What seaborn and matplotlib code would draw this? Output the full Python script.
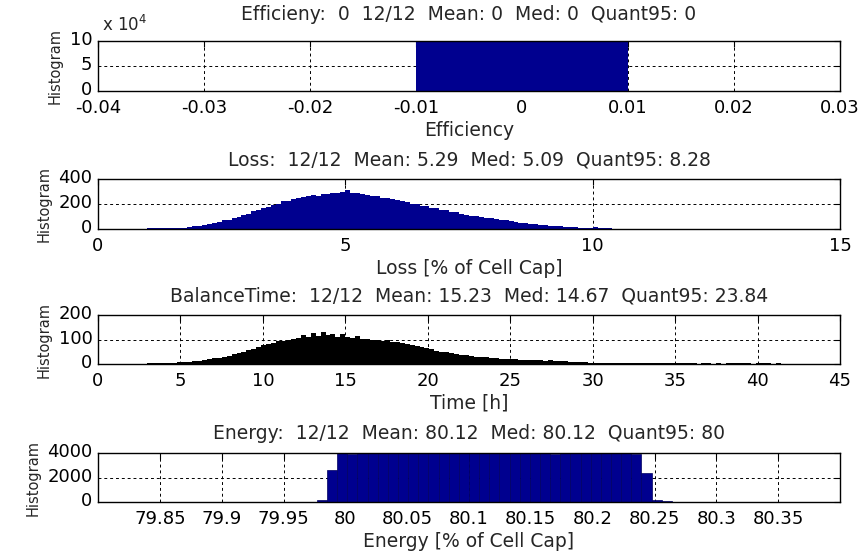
import matplotlib
matplotlib.use("Agg")
import matplotlib.pyplot as plt
import matplotlib.transforms as mtransforms
import numpy as np
import pandas as pd
import seaborn as sns

sns.set_style("white")
plt.rcParams['font.family'] = ['DejaVu Sans']

# Efficiency: all values at 0, one bin from -0.01 to 0.01 (count beyond the axis top)
eff_edges = [-0.01, 0.01]
eff_counts = [120000]

# Loss [% of Cell Cap], bins of 0.1 starting at 0.8
loss_start, loss_width = 0.8, 0.1
loss_counts = [
    2, 4,
    5, 6, 5, 7, 6, 8, 9, 12, 16, 22,
    26, 34, 41, 48, 57, 69, 76, 90, 98, 113,
    124, 141, 152, 170, 178, 196, 203, 221, 228, 244,
    246, 259, 262, 270, 268, 281, 279, 291, 286, 297,
    312, 291, 288, 281, 276, 268, 263, 252, 249, 238,
    233, 221, 216, 203, 197, 187, 181, 170, 166, 154,
    149, 138, 133, 122, 116, 108, 104, 96, 92, 85,
    80, 74, 70, 62, 58, 52, 48, 43, 40, 35,
    32, 28, 25, 21, 18, 15, 13, 11, 10, 9,
    14, 6, 5, 8, 4, 4, 3, 3, 3, 3,
    3, 3, 2, 3, 2, 3, 2, 2, 3, 2,
    2, 2, 2, 3, 2, 2, 2, 2, 2, 2,
    0, 2, 0, 3, 2, 0, 3, 0, 2, 0,
    2, 0, 0, 3, 0, 2,
]

# BalanceTime [h], bins of 0.3 starting at 2.7
time_start, time_width = 2.7, 0.3
time_counts = [
    2, 3, 4, 4, 5, 5, 6, 7, 8, 10,
    12, 14, 17, 19, 23, 26, 30, 34, 39, 44,
    50, 57, 63, 70, 76, 81, 86, 92, 95, 99,
    103, 108, 118, 112, 126, 115, 132, 117, 121, 112,
    124, 110, 106, 113, 102, 104, 98, 99, 95, 96,
    90, 88, 84, 82, 77, 72, 68, 64, 60, 55,
    51, 47, 45, 42, 38, 35, 32, 30, 29, 27,
    25, 24, 22, 21, 20, 19, 18, 17, 18, 16,
    15, 14, 15, 12, 11, 12, 10, 9, 8, 7,
    6, 6, 5, 5, 4, 5, 4, 4, 3, 4,
    3, 4, 3, 3, 4, 3, 3, 3, 4, 3,
    3, 3, 2, 4, 3, 2, 3, 2, 5, 3,
    5, 4, 6, 2, 5, 3, 4, 2, 3, 2,
    2,
]

# Energy [% of Cell Cap], bins of 0.0082 starting at 79.977
energy_start, energy_width = 79.977, 0.0082
energy_counts = [
    150, 2600,
    4150, 3900, 4150, 4150, 4150, 4150, 4150, 4150, 4150, 4150,
    4150, 4150, 4150, 4150, 4150, 4150, 4150, 4150, 4150, 4150,
    4150, 3900, 4150, 4150, 4150, 4150, 4150, 4150, 4150, 3900,
    2400, 200, 100,
]

titles = [
    "Efficieny:  0  12/12  Mean: 0  Med: 0  Quant95: 0",
    "Loss:  12/12  Mean: 5.29  Med: 5.09  Quant95: 8.28",
    "BalanceTime:  12/12  Mean: 15.23  Med: 14.67  Quant95: 23.84",
    "Energy:  12/12  Mean: 80.12  Med: 80.12  Quant95: 80",
]
xlabels = ["Efficiency", "Loss [% of Cell Cap]", "Time [h]", "Energy [% of Cell Cap]"]
xlims = [(-0.04, 0.03), (0, 15), (0, 45), (79.8, 80.4)]
xticks = [
    [-0.04, -0.03, -0.02, -0.01, 0, 0.01, 0.02, 0.03],
    [0, 5, 10, 15],
    [0, 5, 10, 15, 20, 25, 30, 35, 40, 45],
    [79.85, 79.9, 79.95, 80, 80.05, 80.1, 80.15, 80.2, 80.25, 80.3, 80.35],
]
xticklabels = [
    ["-0.04", "-0.03", "-0.02", "-0.01", "0", "0.01", "0.02", "0.03"],
    ["0", "5", "10", "15"],
    ["0", "5", "10", "15", "20", "25", "30", "35", "40", "45"],
    ["79.85", "79.9", "79.95", "80", "80.05", "80.1", "80.15", "80.2", "80.25", "80.3", "80.35"],
]
yticks = [[0, 50000, 100000], [0, 200, 400], [0, 100, 200], [0, 2000, 4000]]
yticklabels = [["0", "5", "10"], ["0", "200", "400"], ["0", "100", "200"], ["0", "2000", "4000"]]

navy = "#00008F"
fs = 13.5
tick_fs = 13


def binned(edges, counts):
    e = np.asarray(edges, dtype=float)
    df = pd.DataFrame({"x": (e[:-1] + e[1:]) / 2, "w": counts})
    return df, [float(v) for v in e]


fig = plt.figure(figsize=(8.62, 5.56), dpi=100)
W, H = 862.0, 556.0
left, right = 98, 840
tops = [41, 179, 315, 453]
bottoms = [91, 229, 364, 502]
axes = [fig.add_axes([left / W, 1 - b / H, (right - left) / W, (b - t) / H])
        for t, b in zip(tops, bottoms)]

panels = [
    (eff_edges, eff_counts, navy, navy, 0),
    (loss_start + loss_width * np.arange(len(loss_counts) + 1), loss_counts, navy, navy, 0),
    (time_start + time_width * np.arange(len(time_counts) + 1), time_counts, "black", "black", 0),
    (energy_start + energy_width * np.arange(len(energy_counts) + 1), energy_counts, navy, "#000060", 0.5),
]

for ax, (edges, counts, fc, ec, lw) in zip(axes, panels):
    df, bins = binned(edges, counts)
    sns.histplot(data=df, x="x", weights="w", bins=bins, color=fc, alpha=1,
                 edgecolor=ec, linewidth=lw, ax=ax)

# nudge y tick labels up a little, as in the reference
lift = mtransforms.ScaledTranslation(0, 3 / 100, fig.dpi_scale_trans)

for i, ax in enumerate(axes):
    ax.set_xlim(*xlims[i])
    ax.set_ylim(yticks[i][0], yticks[i][-1])
    ax.set_xticks(xticks[i])
    ax.set_xticklabels(xticklabels[i])
    ax.set_yticks(yticks[i])
    ax.set_yticklabels(yticklabels[i])
    ax.set_title(titles[i], fontsize=fs, pad=15 if i == 0 else 10)
    ax.set_xlabel(xlabels[i], fontsize=fs, labelpad=3)
    ax.set_ylabel("Histogram", fontsize=10.5, labelpad=5)
    ax.grid(True, linestyle=(0, (3, 3)), color="black", linewidth=0.7)
    ax.set_axisbelow(True)
    ax.tick_params(direction="in", top=True, right=True, length=4, width=0.8,
                   labelsize=tick_fs, colors="black")
    ax.tick_params(axis="x", pad=5.5)
    ax.tick_params(axis="y", pad=4)
    for lab in ax.get_yticklabels():
        lab.set_transform(lab.get_transform() + lift)
    for s in ax.spines.values():
        s.set_visible(True)
        s.set_color("black")
        s.set_linewidth(1.0)

axes[0].text(0.005, 1.12, r"x 10$^{4}$", transform=axes[0].transAxes,
             fontsize=12, va="bottom", ha="left")

fig.savefig("out.png", dpi=100)
